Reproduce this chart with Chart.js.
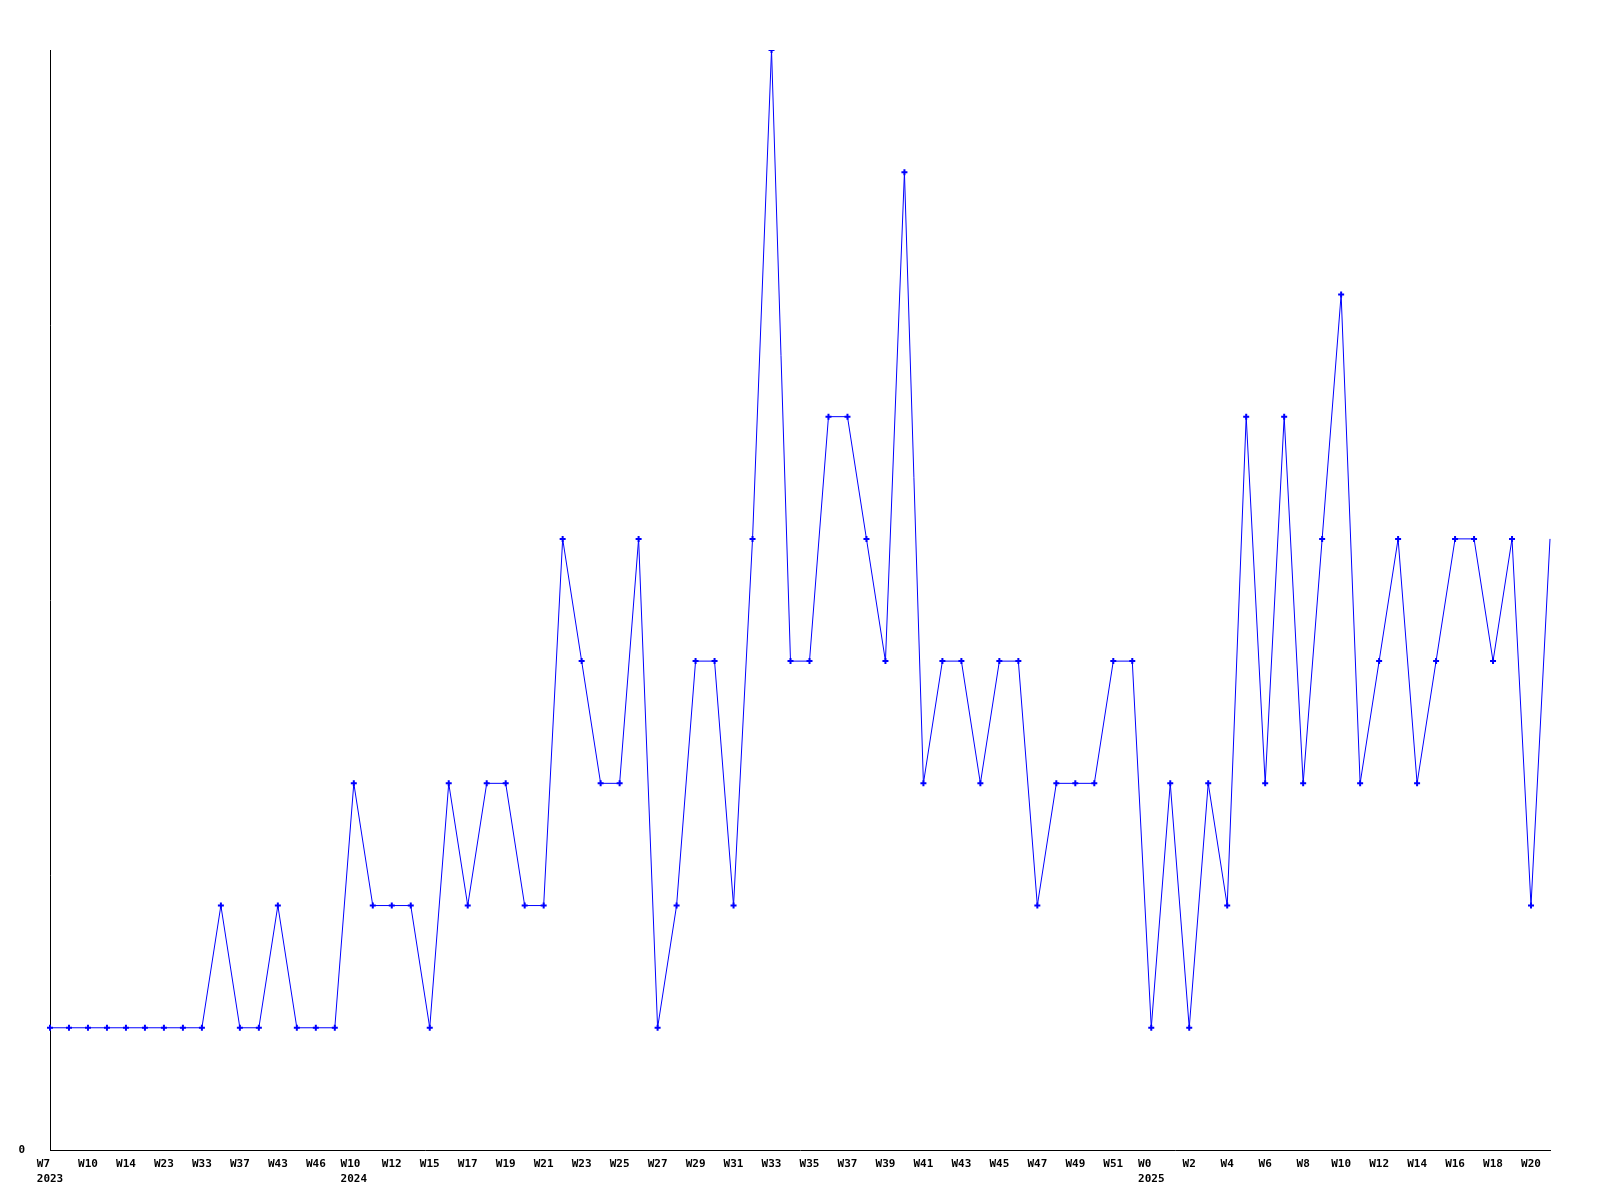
<!DOCTYPE html>
<html>
<head>
<meta charset="utf-8">
<script src="https://cdn.jsdelivr.net/npm/chart.js@4/dist/chart.umd.min.js"></script>
<style>
  html, body { margin: 0; padding: 0; background: #fff; }
  #wrap { width: 1600px; height: 1200px; }
</style>
</head>
<body>
<div id="wrap"><canvas id="chart" width="1600" height="1200"></canvas></div>
<script>
// week labels, one per point (only every other one is drawn)
const weeks = [
    'W7', 'W8', 'W10', 'W12', 'W14', 'W19', 'W23', 'W28', 'W33', 'W35', 'W37', 'W40', 'W43', 'W45', 'W46', 'W50',
    'W10', 'W11', 'W12', 'W14', 'W15', 'W16', 'W17', 'W18', 'W19', 'W20', 'W21', 'W22', 'W23', 'W24', 'W25', 'W26',
    'W27', 'W28', 'W29', 'W30', 'W31', 'W32', 'W33', 'W34', 'W35', 'W36', 'W37', 'W38', 'W39', 'W40', 'W41', 'W42',
    'W43', 'W44', 'W45', 'W46', 'W47', 'W48', 'W49', 'W50', 'W51', 'W52',
    'W0', 'W1', 'W2', 'W3', 'W4', 'W5', 'W6', 'W7', 'W8', 'W9', 'W10', 'W11', 'W12', 'W13', 'W14', 'W15', 'W16',
    'W17', 'W18', 'W19', 'W20', 'W21'
];
// year shown under the first week of each year
const years = { 0: '2023', 16: '2024', 58: '2025' };

const counts = [
    1, 1, 1, 1, 1, 1, 1, 1, 1, 2, 1, 1, 2, 1, 1, 1,
    3, 2, 2, 2, 1, 3, 2, 3, 3, 2, 2, 5, 4, 3, 3, 5,
    1, 2, 4, 4, 2, 5, 9, 4, 4, 6, 6, 5, 4, 8, 3, 4,
    4, 3, 4, 4, 2, 3, 3, 3, 4, 4,
    1, 3, 1, 3, 2, 6, 3, 6, 3, 5, 7, 3, 4, 5, 3, 4, 5,
    5, 4, 5, 2, 5
];

// monospace font: pad the week so it starts where the year starts
const labels = weeks.map((w, i) => years[i] ? [w.padEnd(years[i].length, ' '), years[i]] : w);

const font = { family: '"DejaVu Sans Mono", monospace', size: 11, weight: 'bold', lineHeight: 1.35 };

new Chart(document.getElementById('chart'), {
    type: 'line',
    data: {
        labels: labels,
        datasets: [{
            data: counts,
            borderColor: '#0000ff',
            backgroundColor: '#0000ff',
            borderWidth: 1,
            tension: 0,
            pointStyle: 'cross',
            pointRadius: (ctx) => ctx.dataIndex === counts.length - 1 ? 0 : 3,
            pointBorderWidth: 2
        }]
    },
    options: {
        responsive: false,
        animation: false,
        layout: { padding: { top: 50, right: 50, left: 0, bottom: 0 } },
        plugins: {
            legend: { display: false },
            tooltip: { enabled: false }
        },
        scales: {
            x: {
                offset: false,
                grid: { display: false, drawTicks: false },
                border: { color: '#000', width: 1 },
                ticks: {
                    autoSkip: false,
                    maxRotation: 0,
                    padding: 7,
                    color: '#000',
                    font: font,
                    callback: function (value, index) {
                        return index % 2 === 0 ? labels[index] : '';
                    }
                },
                afterFit: (scale) => { scale.height = 50; }
            },
            y: {
                min: 0,
                max: 9,
                grid: { display: false, drawTicks: false },
                border: { color: '#000', width: 1 },
                ticks: {
                    stepSize: 9,
                    padding: 25,
                    color: '#000',
                    font: font,
                    callback: (v) => v === 0 ? '0' : ''
                },
                afterFit: (scale) => { scale.width = 50; }
            }
        }
    }
});
</script>
</body>
</html>
